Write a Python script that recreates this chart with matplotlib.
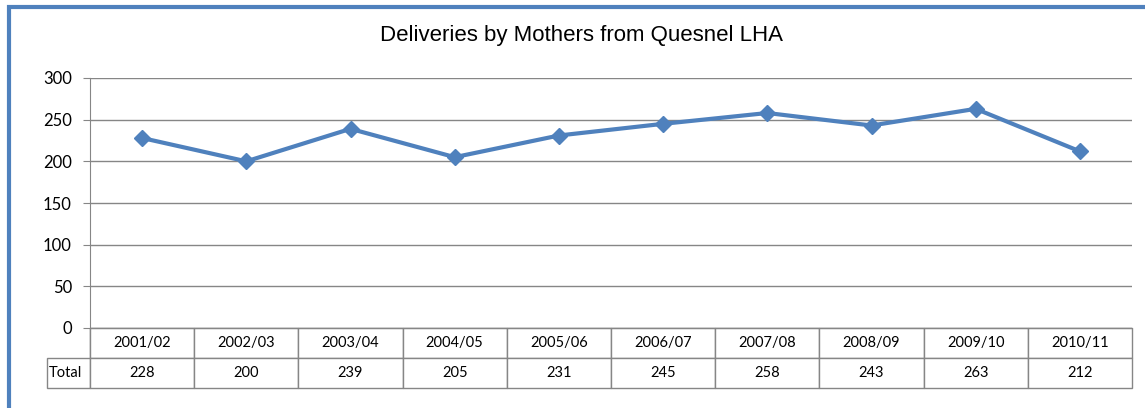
import matplotlib
matplotlib.use("Agg")
import matplotlib.pyplot as plt
from matplotlib.patches import Rectangle

years = ["2001/02", "2002/03", "2003/04", "2004/05", "2005/06",
         "2006/07", "2007/08", "2008/09", "2009/10", "2010/11"]
totals = [228, 200, 239, 205, 231, 245, 258, 243, 263, 212]
row_label = "Total"
title = "Deliveries by Mothers from Quesnel LHA"

BLUE = "#4F81BD"
GRID = "#868686"

fig = plt.figure(figsize=(11.45, 4.08), dpi=100)
ax = fig.add_axes([90 / 1145, 80 / 408, 1042 / 1145, 250 / 408])

x = list(range(len(years)))
ax.plot(x, totals, color=BLUE, lw=3, marker="D", ms=8, zorder=3)
ax.set_xlim(-0.5, len(years) - 0.5)
ax.set_ylim(0, 300)
ax.set_yticks(range(0, 301, 50))
ax.yaxis.grid(True, color=GRID, lw=1)
ax.set_axisbelow(True)
ax.set_xticks([])
for s in ["top", "right"]:
    ax.spines[s].set_visible(False)
for s in ["left", "bottom"]:
    ax.spines[s].set_color(GRID)
ax.tick_params(axis="y", length=5, color=GRID, labelsize=12, pad=8)
for lab in ax.get_yticklabels():
    lab.set_fontfamily("Lato")

# title is centred on the chart area, not the plot area
fig.text(581 / 1145, 1 - 35 / 408, title, fontsize=16,
         fontfamily="Liberation Sans", ha="center", va="center")

# data table below the axes
cells = [[""] + years, [row_label] + [str(v) for v in totals]]
lw = 43 / 1042
tbl = ax.table(cellText=cells, cellLoc="center",
               colWidths=[lw] + [1 / len(years)] * len(years),
               bbox=[-lw, -60 / 250, 1 + lw, 60 / 250])
tbl.auto_set_font_size(False)
for (r, c), cell in tbl.get_celld().items():
    cell.set_edgecolor(GRID)
    cell.get_text().set_fontsize(10.5)
    cell.get_text().set_fontfamily("Lato")
    if c == 0:
        cell.get_text().set_ha("left")
        cell._loc = "left"
        cell.PAD = 0.05
    if r == 0 and c == 0:
        cell.visible_edges = "R"

fig.add_artist(Rectangle((8.5 / 1145, -0.2), 1.5, 1.2 - 6.5 / 408,
                         transform=fig.transFigure, fill=False,
                         ec=BLUE, lw=3, clip_on=False))

fig.savefig("out.png", dpi=100)
